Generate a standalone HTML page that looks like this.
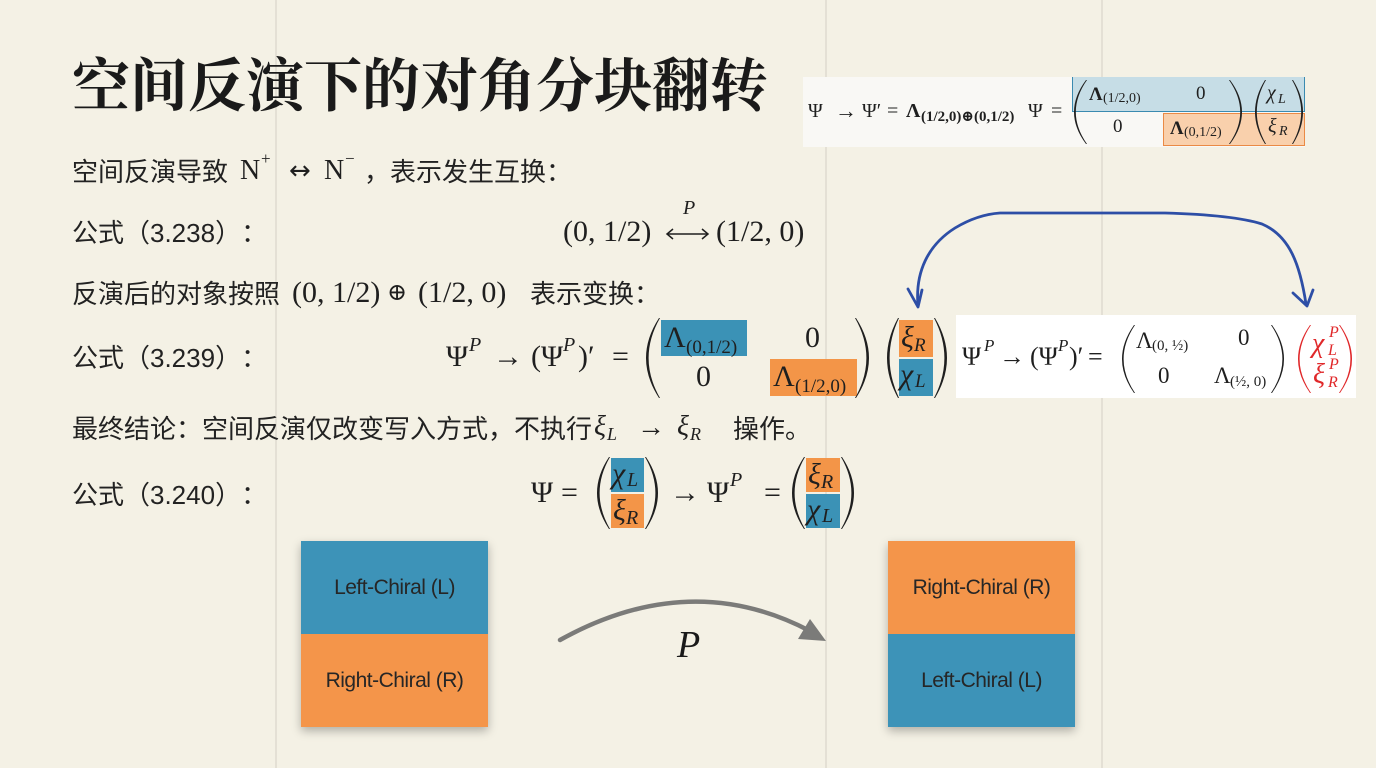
<!DOCTYPE html>
<html><head><meta charset="utf-8"><style>
*{margin:0;padding:0;box-sizing:border-box}
body{width:1376px;height:768px;overflow:hidden;background:#f4f1e5;position:relative;color:#1f1f1f;text-spacing-trim:space-all}
.t{position:absolute;white-space:nowrap;line-height:1;font-family:"Liberation Serif","DejaVu Serif",serif}
.i{font-style:italic}
.b{font-weight:bold}
.c{position:absolute;white-space:nowrap;line-height:1;font-family:"Liberation Sans","Noto Sans CJK SC",sans-serif;font-size:26px;color:#222;text-spacing-trim:space-all}
.r{position:absolute}
.vl{position:absolute;top:0;width:1.5px;height:768px;background:#e4e0d5}
.lab{position:absolute;left:0;width:187px;height:93px;display:flex;align-items:center;justify-content:center;font-family:"Liberation Sans","Noto Sans CJK SC",sans-serif;font-size:21px;letter-spacing:-0.5px;color:#262626}
</style></head><body>

<div class="vl" style="left:275px"></div>
<div class="vl" style="left:825px"></div>
<div class="vl" style="left:1101px"></div>

<!-- Title -->
<div class="t b" style="left:72px;top:58px;font-size:58px;font-family:'Liberation Serif','Noto Serif CJK SC',serif;color:#1a1a1a">空间反演下的对角分块翻转</div>

<!-- Line 1 -->
<div class="c" style="left:72px;top:159px">空间反演导致</div>
<div class="t" style="left:240px;top:157px;font-size:28px">N</div>
<div class="t" style="left:261px;top:150px;font-size:17px">+</div>
<div class="t" style="left:289px;top:158px;font-size:26px;font-family:'DejaVu Sans',sans-serif">↔</div>
<div class="t" style="left:324px;top:157px;font-size:28px">N</div>
<div class="t" style="left:345px;top:150px;font-size:17px">−</div>
<div class="c" style="left:364px;top:159px">，表示发生互换：</div>

<!-- Line 2 -->
<div class="c" style="left:72px;top:220px">公式（3.238）：</div>
<div class="t" style="left:563px;top:217px;font-size:30px">(0, 1/2)</div>
<div class="t i" style="left:683px;top:198px;font-size:20px">P</div>
<div class="t" style="left:716px;top:217px;font-size:30px">(1/2, 0)</div>

<!-- Line 3 -->
<div class="c" style="left:72px;top:281px">反演后的对象按照</div>
<div class="t" style="left:292px;top:278px;font-size:30px">(0, 1/2)</div>
<div class="t" style="left:387px;top:280px;font-size:24px;font-family:'DejaVu Serif',serif">⊕</div>
<div class="t" style="left:418px;top:278px;font-size:30px">(1/2, 0)</div>
<div class="c" style="left:530px;top:281px">表示变换：</div>

<!-- Line 4 -->
<div class="c" style="left:72px;top:345px">公式（3.239）：</div>
<div class="t" style="left:446px;top:342px;font-size:30px">Ψ</div>
<div class="t i" style="left:469px;top:335px;font-size:20px">P</div>
<div class="t" style="left:493px;top:342px;font-size:30px">→</div>
<div class="t" style="left:531px;top:342px;font-size:30px">(Ψ</div>
<div class="t i" style="left:563px;top:335px;font-size:20px">P</div>
<div class="t" style="left:578px;top:342px;font-size:30px">)′</div>
<div class="t" style="left:612px;top:342px;font-size:30px">=</div>

<div class="r" style="left:661px;top:320px;width:86px;height:36px;background:#3b92b6"></div>
<div class="t" style="left:664px;top:323px;font-size:30px">Λ</div>
<div class="t" style="left:686px;top:338px;font-size:19px">(0,1/2)</div>
<div class="t" style="left:805px;top:323px;font-size:30px">0</div>
<div class="t" style="left:696px;top:362px;font-size:30px">0</div>
<div class="r" style="left:770px;top:359px;width:87px;height:37px;background:#f39548"></div>
<div class="t" style="left:773px;top:362px;font-size:30px">Λ</div>
<div class="t" style="left:795px;top:377px;font-size:19px">(1/2,0)</div>

<div class="r" style="left:899px;top:320px;width:34px;height:37px;background:#f39548"></div>
<div class="t i" style="left:901px;top:323px;font-size:30px">ξ</div>
<div class="t i" style="left:914px;top:336px;font-size:19px">R</div>
<div class="r" style="left:899px;top:359px;width:34px;height:37px;background:#3b92b6"></div>
<div class="t i" style="left:900px;top:360px;font-size:30px">χ</div>
<div class="t i" style="left:915px;top:372px;font-size:19px">L</div>

<!-- White box right -->
<div class="r" style="left:956px;top:315px;width:400px;height:83px;background:#ffffff"></div>
<div class="t" style="left:962px;top:344px;font-size:26px">Ψ</div>
<div class="t i" style="left:984px;top:337px;font-size:17px">P</div>
<div class="t" style="left:999px;top:344px;font-size:26px">→</div>
<div class="t" style="left:1030px;top:344px;font-size:26px">(Ψ</div>
<div class="t i" style="left:1058px;top:337px;font-size:17px">P</div>
<div class="t" style="left:1069px;top:344px;font-size:26px">)′</div>
<div class="t" style="left:1088px;top:344px;font-size:26px">=</div>
<div class="t" style="left:1136px;top:329px;font-size:23px">Λ</div>
<div class="t" style="left:1152px;top:339px;font-size:15px">(0, ½)</div>
<div class="t" style="left:1238px;top:326px;font-size:23px">0</div>
<div class="t" style="left:1158px;top:364px;font-size:23px">0</div>
<div class="t" style="left:1214px;top:364px;font-size:23px">Λ</div>
<div class="t" style="left:1230px;top:375px;font-size:15px">(½, 0)</div>
<div class="t i" style="left:1312px;top:330px;font-size:28px;color:#e0282a">χ</div>
<div class="t i" style="left:1329px;top:325px;font-size:16px;color:#e0282a">P</div>
<div class="t i" style="left:1328px;top:343px;font-size:16px;color:#e0282a">L</div>
<div class="t i" style="left:1313px;top:361px;font-size:28px;color:#e0282a">ξ</div>
<div class="t i" style="left:1329px;top:357px;font-size:16px;color:#e0282a">P</div>
<div class="t i" style="left:1328px;top:375px;font-size:16px;color:#e0282a">R</div>

<!-- Top right box -->
<div class="r" style="left:803px;top:77px;width:502px;height:70px;background:#f9f8f5"></div>
<div class="r" style="left:1072px;top:77px;width:233px;height:35px;background:#c6dde6;border:1.5px solid #3a8ab0;border-top:none"></div>
<div class="r" style="left:1163px;top:113px;width:142px;height:33px;background:#f9d0ac;border:1.5px solid #ea8a45"></div>
<div class="t" style="left:808px;top:101px;font-size:20px">Ψ</div>
<div class="t" style="left:835px;top:100px;font-size:22px">→</div>
<div class="t" style="left:862px;top:101px;font-size:20px">Ψ′</div>
<div class="t" style="left:887px;top:101px;font-size:20px">=</div>
<div class="t b" style="left:906px;top:101px;font-size:20px">Λ</div>
<div class="t b" style="left:921px;top:110px;font-size:15px">(1/2,0)⊕(0,1/2)</div>
<div class="t" style="left:1028px;top:101px;font-size:20px">Ψ</div>
<div class="t" style="left:1051px;top:101px;font-size:20px">=</div>
<div class="t b" style="left:1089px;top:85px;font-size:19px">Λ</div>
<div class="t" style="left:1103px;top:92px;font-size:14px">(1/2,0)</div>
<div class="t" style="left:1196px;top:84px;font-size:19px">0</div>
<div class="t" style="left:1113px;top:117px;font-size:19px">0</div>
<div class="t b" style="left:1170px;top:119px;font-size:19px">Λ</div>
<div class="t" style="left:1184px;top:126px;font-size:14px">(0,1/2)</div>
<div class="t i" style="left:1267px;top:83px;font-size:20px">χ</div>
<div class="t i" style="left:1278px;top:93px;font-size:14px">L</div>
<div class="t i" style="left:1268px;top:116px;font-size:20px">ξ</div>
<div class="t i" style="left:1279px;top:125px;font-size:14px">R</div>

<!-- Line 5 -->
<div class="c" style="left:72px;top:416px">最终结论：空间反演仅改变写入方式，不执行</div>
<div class="t i" style="left:594px;top:413px;font-size:28px">ξ</div>
<div class="t i" style="left:607px;top:425px;font-size:18px">L</div>
<div class="t" style="left:637px;top:414px;font-size:28px">→</div>
<div class="t i" style="left:677px;top:413px;font-size:28px">ξ</div>
<div class="t i" style="left:690px;top:425px;font-size:18px">R</div>
<div class="c" style="left:733px;top:416px">操作。</div>

<!-- Line 6 -->
<div class="c" style="left:72px;top:482px">公式（3.240）：</div>
<div class="t" style="left:531px;top:478px;font-size:30px">Ψ</div>
<div class="t" style="left:561px;top:478px;font-size:30px">=</div>
<div class="r" style="left:611px;top:458px;width:33px;height:34px;background:#3b92b6"></div>
<div class="t i" style="left:612px;top:459px;font-size:30px">χ</div>
<div class="t i" style="left:627px;top:470px;font-size:20px">L</div>
<div class="r" style="left:611px;top:494px;width:33px;height:34px;background:#f39548"></div>
<div class="t i" style="left:613px;top:496px;font-size:30px">ξ</div>
<div class="t i" style="left:626px;top:508px;font-size:20px">R</div>
<div class="t" style="left:670px;top:478px;font-size:30px">→</div>
<div class="t" style="left:707px;top:478px;font-size:30px">Ψ</div>
<div class="t i" style="left:730px;top:470px;font-size:20px">P</div>
<div class="t" style="left:764px;top:478px;font-size:30px">=</div>
<div class="r" style="left:806px;top:458px;width:34px;height:34px;background:#f39548"></div>
<div class="t i" style="left:808px;top:460px;font-size:30px">ξ</div>
<div class="t i" style="left:821px;top:472px;font-size:20px">R</div>
<div class="r" style="left:806px;top:494px;width:34px;height:34px;background:#3b92b6"></div>
<div class="t i" style="left:807px;top:495px;font-size:30px">χ</div>
<div class="t i" style="left:822px;top:506px;font-size:20px">L</div>

<!-- Bottom boxes -->
<div class="r" style="left:301px;top:541px;width:187px;height:186px;box-shadow:0 4px 9px rgba(0,0,0,0.28)">
  <div class="lab" style="top:0;background:#3d93b8">Left-Chiral (L)</div>
  <div class="lab" style="top:93px;background:#f4954a">Right-Chiral (R)</div>
</div>
<div class="r" style="left:888px;top:541px;width:187px;height:186px;box-shadow:0 4px 9px rgba(0,0,0,0.28)">
  <div class="lab" style="top:0;background:#f4954a">Right-Chiral (R)</div>
  <div class="lab" style="top:93px;background:#3d93b8">Left-Chiral (L)</div>
</div>
<div class="t i" style="left:677px;top:626px;font-size:38px;color:#1a1a1a">P</div>

<svg class="r" style="left:0;top:0" width="1376" height="768" viewBox="0 0 1376 768">
  <!-- 3.238 arrow -->
  <g stroke="#1f1f1f" stroke-width="1.5" fill="none">
    <line x1="667" y1="234" x2="708" y2="234"/>
    <path d="M673,229 L667,234 L673,239"/>
    <path d="M702,229 L708,234 L702,239"/>
  </g>
  <g fill="#1f1f1f">
    <!-- 3.239 parens -->
    <path d="M659,318Q633,358 659,398L660,398Q637.2,358 660,318Z"/>
    <path d="M856,318Q882,358 856,398L855,398Q877.8,358 855,318Z"/>
    <path d="M898,318Q876,358 898,398L899,398Q880.2,358 899,318Z"/>
    <path d="M935,318Q959,358 935,398L934,398Q954.8,358 934,318Z"/>
    <!-- 3.240 parens -->
    <path d="M609,457Q585,493 609,529L610,529Q589.2,493 610,457Z"/>
    <path d="M646,457Q670,493 646,529L645,529Q665.8,493 645,457Z"/>
    <path d="M804,457Q780,493 804,529L805,529Q784.2,493 805,457Z"/>
    <path d="M842,457Q866,493 842,529L841,529Q861.8,493 841,457Z"/>
    <!-- top-right parens -->
    <path d="M1086,80Q1062,112 1086,144L1087,144Q1064.6,112 1087,80Z"/>
    <path d="M1230,80Q1254,112 1230,144L1229,144Q1251.4,112 1229,80Z"/>
    <path d="M1265,80Q1245,112 1265,144L1266,144Q1247.6,112 1266,80Z"/>
    <path d="M1293,80Q1313,112 1293,144L1292,144Q1310.4,112 1292,80Z"/>
    <!-- white box parens -->
    <path d="M1134,325Q1110,359 1134,393L1135,393Q1112.2,359 1135,325Z"/>
    <path d="M1272,325Q1296,359 1272,393L1271,393Q1293.8,359 1271,325Z"/>
  </g>
  <g fill="#e0282a">
    <path d="M1310,325Q1286,359 1310,393L1311,393Q1288.2,359 1311,325Z"/>
    <path d="M1340,325Q1364,359 1340,393L1339,393Q1361.8,359 1339,325Z"/>
  </g>
  <!-- hand-drawn blue arrow -->
  <g stroke="#2d4ea6" stroke-width="2.8" fill="none" stroke-linecap="round" stroke-linejoin="round">
    <path d="M918,306 C915,272 928,245 955,228 C970,219 985,214 1000,213 L1165,213 C1200,214 1240,217 1262,224 C1290,236 1300,265 1306,304"/>
    <path d="M908,289 L918,307 L922,290"/>
    <path d="M1293,293 L1307,306 L1313,290"/>
  </g>
  <!-- gray P arrow -->
  <path d="M560,640 Q690,568 810,631" stroke="#7b7b79" stroke-width="4.5" fill="none" stroke-linecap="round"/>
  <polygon points="826,641 810,619 798,639" fill="#7b7b79"/>
</svg>
</body></html>
